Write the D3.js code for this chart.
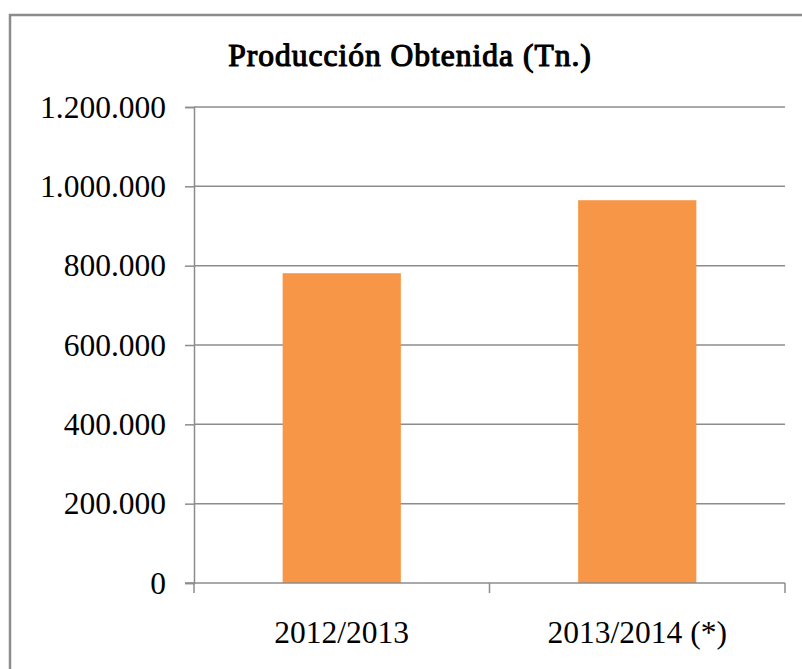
<!DOCTYPE html>
<html>
<head>
<meta charset="utf-8">
<script src="https://cdn.jsdelivr.net/npm/d3@7"></script>
<style>
  body { margin: 0; background: #fff; }
  svg { display: block; }
  text { font-family: "Liberation Serif", "Times New Roman", serif; fill: #000; }
</style>
</head>
<body>
<div id="chart"></div>
<script>
// Data
const categories = ["2012/2013", "2013/2014 (*)"];
const values = [781000, 965000];
const yTicks = [0, 200000, 400000, 600000, 800000, 1000000, 1200000];
const title = "Producción Obtenida (Tn.)";

const width = 802, height = 669;
const margin = { top: 107, right: 17, bottom: 86, left: 194 };
const fontSize = "31.5px";

const svg = d3.select("#chart")
    .append("svg")
    .attr("width", width)
    .attr("height", height);

// Outer chart border
svg.append("rect")
    .attr("x", 10)
    .attr("y", 15)
    .attr("width", 810)
    .attr("height", 700)
    .attr("fill", "none")
    .attr("stroke", "#8c8c8c")
    .attr("stroke-width", 2.5);

const x = d3.scaleBand()
    .domain(categories)
    .range([margin.left, width - margin.right])
    .paddingInner(0.6)
    .paddingOuter(0.3);

const y = d3.scaleLinear()
    .domain([0, 1200000])
    .range([height - margin.bottom, margin.top]);

const fmt = d => d3.format(",")(d).replace(/,/g, ".");

// Gridlines
svg.append("g")
    .selectAll("line")
    .data(yTicks.filter(d => d > 0))
    .enter()
    .append("line")
    .attr("x1", margin.left)
    .attr("x2", width - margin.right)
    .attr("y1", d => y(d))
    .attr("y2", d => y(d))
    .attr("stroke", "#8c8c8c")
    .attr("stroke-width", 1.5);

// Bars
svg.append("g")
    .selectAll("rect")
    .data(values)
    .enter()
    .append("rect")
    .attr("x", (d, i) => x(categories[i]))
    .attr("width", x.bandwidth())
    .attr("y", d => y(d))
    .attr("height", d => y(0) - y(d))
    .attr("fill", "#f79646");

// Y axis
const yAxis = svg.append("g")
    .attr("transform", `translate(${margin.left},0)`)
    .call(d3.axisLeft(y).tickValues(yTicks).tickFormat(fmt).tickSize(9).tickPadding(19));
yAxis.select(".domain").attr("stroke", "#8c8c8c").attr("stroke-width", 1.5);
yAxis.selectAll(".tick line").attr("stroke", "#8c8c8c").attr("stroke-width", 1.5);
yAxis.selectAll(".tick text")
    .style("font-family", "'Liberation Serif', 'Times New Roman', serif")
    .style("font-size", fontSize)
    .attr("fill", "#000");

// X axis: ticks at band boundaries
const xBase = svg.append("g")
    .attr("transform", `translate(0,${y(0)})`);
xBase.append("line")
    .attr("x1", margin.left - 9)
    .attr("x2", width - margin.right)
    .attr("stroke", "#8c8c8c")
    .attr("stroke-width", 1.5);
const step = (width - margin.right - margin.left) / categories.length;
xBase.selectAll(".xtick")
    .data(d3.range(categories.length + 1))
    .enter()
    .append("line")
    .attr("x1", i => margin.left + i * step)
    .attr("x2", i => margin.left + i * step)
    .attr("y1", 0)
    .attr("y2", 10)
    .attr("stroke", "#8c8c8c")
    .attr("stroke-width", 1.5);
xBase.selectAll(".xlabel")
    .data(categories)
    .enter()
    .append("text")
    .attr("x", d => x(d) + x.bandwidth() / 2)
    .attr("y", 60)
    .attr("text-anchor", "middle")
    .style("font-size", fontSize)
    .text(d => d);

// Title (bold drawn with a stroke, serif bold face is not available)
svg.append("text")
    .attr("x", 410)
    .attr("y", 66)
    .attr("text-anchor", "middle")
    .style("font-size", fontSize)
    .style("letter-spacing", "1px")
    .attr("stroke", "#000")
    .attr("stroke-width", 1.2)
    .attr("stroke-linejoin", "round")
    .text(title);
</script>
</body>
</html>
